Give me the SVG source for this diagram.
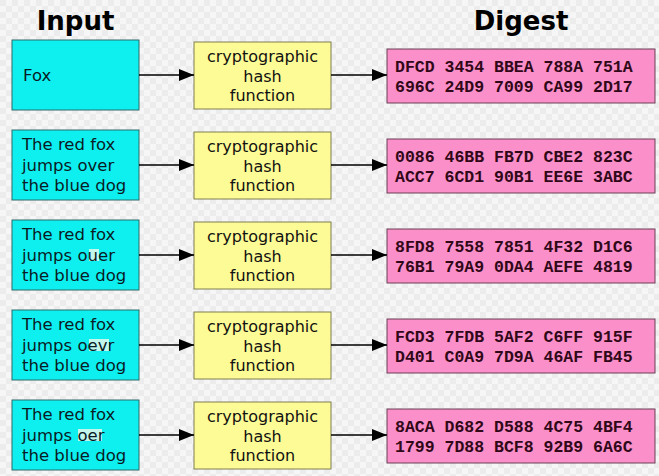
<svg xmlns="http://www.w3.org/2000/svg" width="659" height="476" viewBox="0 0 659 476">
<defs>
<pattern id="chk" width="12" height="12" patternUnits="userSpaceOnUse">
<rect width="12" height="12" fill="#f6f6f6"/>
<rect width="6" height="6" fill="#ececec"/>
<rect x="6" y="6" width="6" height="6" fill="#ececec"/>
</pattern>
<marker id="ah" viewBox="0 0 15 12" refX="15" refY="6" markerWidth="15" markerHeight="12" markerUnits="userSpaceOnUse" orient="auto">
<path d="M0,0 L15,6 L0,12 Z" fill="#000"/>
</marker>
</defs>
<style>
.head{font-family:"DejaVu Sans",sans-serif;font-weight:bold;font-size:26px;fill:#000;text-anchor:middle}
.in{fill:#0ef0f0;stroke:#2a6a6a;stroke-width:1}
.hash{fill:#fdfb95;stroke:#7f7f50;stroke-width:1}
.dig{fill:#fb8fc9;stroke:#6a3f55;stroke-width:1}
.t{font-family:"DejaVu Sans",sans-serif;font-size:16.5px;fill:#0a1a24}
.h{font-family:"DejaVu Sans",sans-serif;font-size:16px;fill:#111;text-anchor:middle}
.d{font-family:"Liberation Mono","Courier New",monospace;font-weight:bold;font-size:16.5px;fill:#300818}
.hl{fill:#c4f7ec}
.c{stroke:#000;stroke-width:1.5;fill:none;marker-end:url(#ah)}
</style>
<rect width="659" height="476" fill="url(#chk)"/>
<text class="head" x="75.5" y="30">Input</text>
<text class="head" x="521" y="30">Digest</text>

<g id="in1"><rect class="in" x="12" y="40" width="127" height="70"/><text class="t" x="23" y="81">Fox</text></g>
<g id="in2"><rect class="in" x="12" y="130" width="127" height="70"/><text class="t" x="22" y="150">The red fox</text><text class="t" x="22" y="170.5">jumps over</text><text class="t" x="22" y="191">the blue dog</text></g>
<g id="in3"><rect class="in" x="12" y="220" width="127" height="70"/><rect class="hl" x="89" y="249" width="10" height="12"/><text class="t" x="22" y="240">The red fox</text><text class="t" x="22" y="260.5">jumps ouer</text><text class="t" x="22" y="281">the blue dog</text></g>
<g id="in4"><rect class="in" x="12" y="310" width="127" height="70"/><rect class="hl" x="89" y="339" width="20" height="12"/><text class="t" x="22" y="330">The red fox</text><text class="t" x="22" y="350.5">jumps oevr</text><text class="t" x="22" y="371">the blue dog</text></g>
<g id="in5"><rect class="in" x="12" y="400" width="127" height="70"/><rect class="hl" x="78" y="429" width="24" height="12"/><text class="t" x="22" y="420">The red fox</text><text class="t" x="22" y="440.5">jumps oer</text><text class="t" x="22" y="461">the blue dog</text></g>

<g id="hash1"><rect class="hash" x="194" y="42" width="137" height="67"/><text class="h" x="262.5" y="62">cryptographic</text><text class="h" x="262.5" y="81.5">hash</text><text class="h" x="262.5" y="101">function</text></g>
<g id="hash2"><rect class="hash" x="194" y="132" width="137" height="67"/><text class="h" x="262.5" y="152">cryptographic</text><text class="h" x="262.5" y="171.5">hash</text><text class="h" x="262.5" y="191">function</text></g>
<g id="hash3"><rect class="hash" x="194" y="222" width="137" height="67"/><text class="h" x="262.5" y="242">cryptographic</text><text class="h" x="262.5" y="261.5">hash</text><text class="h" x="262.5" y="281">function</text></g>
<g id="hash4"><rect class="hash" x="194" y="312" width="137" height="67"/><text class="h" x="262.5" y="332">cryptographic</text><text class="h" x="262.5" y="351.5">hash</text><text class="h" x="262.5" y="371">function</text></g>
<g id="hash5"><rect class="hash" x="194" y="402" width="137" height="67"/><text class="h" x="262.5" y="422">cryptographic</text><text class="h" x="262.5" y="441.5">hash</text><text class="h" x="262.5" y="461">function</text></g>

<g id="dig1"><rect class="dig" x="387" y="49" width="268" height="54"/><text class="d" x="395" y="71.5">DFCD 3454 BBEA 788A 751A</text><text class="d" x="395" y="92">696C 24D9 7009 CA99 2D17</text></g>
<g id="dig2"><rect class="dig" x="387" y="139" width="268" height="54"/><text class="d" x="395" y="161.5">0086 46BB FB7D CBE2 823C</text><text class="d" x="395" y="182">ACC7 6CD1 90B1 EE6E 3ABC</text></g>
<g id="dig3"><rect class="dig" x="387" y="229" width="268" height="54"/><text class="d" x="395" y="251.5">8FD8 7558 7851 4F32 D1C6</text><text class="d" x="395" y="272">76B1 79A9 0DA4 AEFE 4819</text></g>
<g id="dig4"><rect class="dig" x="387" y="319" width="268" height="54"/><text class="d" x="395" y="341.5">FCD3 7FDB 5AF2 C6FF 915F</text><text class="d" x="395" y="362">D401 C0A9 7D9A 46AF FB45</text></g>
<g id="dig5"><rect class="dig" x="387" y="409" width="268" height="54"/><text class="d" x="395" y="431.5">8ACA D682 D588 4C75 4BF4</text><text class="d" x="395" y="452">1799 7D88 BCF8 92B9 6A6C</text></g>

<g id="connectors">
<line class="c" x1="139" y1="75" x2="194" y2="75"/>
<line class="c" x1="331" y1="75" x2="387" y2="75"/>
<line class="c" x1="139" y1="165" x2="194" y2="165"/>
<line class="c" x1="331" y1="165" x2="387" y2="165"/>
<line class="c" x1="139" y1="255" x2="194" y2="255"/>
<line class="c" x1="331" y1="255" x2="387" y2="255"/>
<line class="c" x1="139" y1="345" x2="194" y2="345"/>
<line class="c" x1="331" y1="345" x2="387" y2="345"/>
<line class="c" x1="139" y1="435" x2="194" y2="435"/>
<line class="c" x1="331" y1="435" x2="387" y2="435"/>
</g>
</svg>
